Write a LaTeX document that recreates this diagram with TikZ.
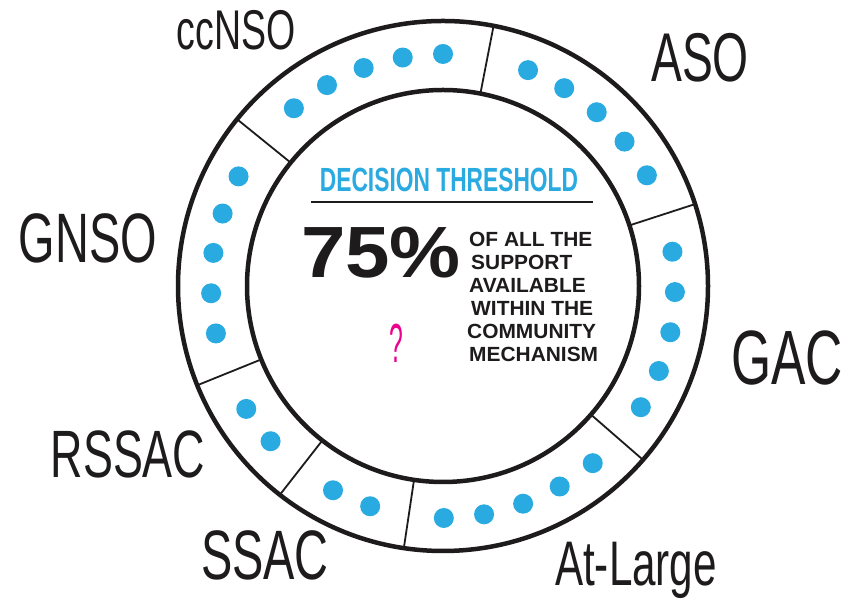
\documentclass[tikz,border=0pt]{standalone}
\usepackage{fontspec}
\setmainfont{Liberation Sans}
\newfontfamily\handfont[FakeStretch=0.67]{Liberation Sans}
\newfontfamily\headfont[FakeStretch=0.68]{Liberation Sans}
\newfontfamily\bigfont[FakeStretch=1.1]{Liberation Sans}
\newfontfamily\colfont[FakeStretch=1.02]{Liberation Sans}
\newfontfamily\qfont[FakeStretch=0.45]{Liberation Sans}
\usetikzlibrary{calc}
\definecolor{dotblue}{HTML}{29ABE2}
\definecolor{ink}{HTML}{1E1B1C}
\definecolor{qmark}{HTML}{EC008C}
\begin{document}
\begin{tikzpicture}[x=1pt,y=1pt,
  ring/.style={draw=ink, line width=4.5pt},
  divider/.style={draw=ink, line width=1.8pt},
  vote/.style={circle, fill=dotblue, draw=none, inner sep=0pt, minimum size=20pt},
  lab/.style={inner sep=0pt, anchor=base, text=ink},
  col/.style={inner sep=0pt, anchor=base west, text=ink, font={\colfont\bfseries\fontsize{20.5pt}{20.5pt}\selectfont}}]
\useasboundingbox (0,0) rectangle (854,601);
\fill[white] (0,0) rectangle (854,601);
\coordinate (c) at (443,315);
% dividers
\foreach \a [count=\k] in {18,79,141,202,232,261.5,319} {
  \coordinate (in\k) at ($(c)+(\a:196pt)$);
  \coordinate (out\k) at ($(c)+(\a:265pt)$);
  \draw[divider] (in\k) -- (out\k);
}
% rings
\draw[ring] (c) circle[radius=265pt];
\draw[ring] (c) circle[radius=196pt];
% dots
\foreach \nm/\mid/\n in {ccnso/110/5, aso/48.5/5, gac/-11.5/5, atl/-69.8/5, ssac/-113.3/2, rssac/-143/2, gnso/171.8/5} {
  \foreach \i in {1,...,\n} {
    \pgfmathsetmacro\ang{\mid+10*(\i-(\n+1)/2)}
    \node[vote] (\nm\i) at ($(c)+(\ang:232pt)$) {};
  }
}
% labels
\node[lab, font={\handfont\fontsize{56pt}{56pt}\selectfont}] (lccnso) at (236,551) {ccNSO};
\node[lab, font={\handfont\fontsize{69pt}{69pt}\selectfont}] (laso) at (700,519) {ASO};
\node[lab, font={\handfont\fontsize{70pt}{70pt}\selectfont}] (lgnso) at (88,338) {GNSO};
\node[lab, font={\handfont\fontsize{77pt}{77pt}\selectfont}] (lgac) at (787,216) {GAC};
\node[lab, font={\handfont\fontsize{67pt}{67pt}\selectfont}] (lrssac) at (128,123) {RSSAC};
\node[lab, font={\handfont\fontsize{70pt}{70pt}\selectfont}] (lssac) at (265,21) {SSAC};
\node[lab, font={\handfont\fontsize{63pt}{63pt}\selectfont}] (latl) at (636,15) {At-Large};
% centre
\node[lab, text=dotblue, font={\headfont\bfseries\fontsize{33.5pt}{33.5pt}\selectfont}] (head) at (449,409) {DECISION THRESHOLD};
\coordinate (ulA) at (311,399);
\coordinate (ulB) at (593,399);
\draw[ink, line width=2pt] (ulA) -- (ulB);
\node[lab, font={\bigfont\bfseries\fontsize{72.6pt}{72.6pt}\selectfont}] (pct) at (381,323) {75\%};
\node[col] (t1) at (469,354) {OF ALL THE};
\node[col] (t2) at (471,331) {SUPPORT};
\node[col] (t3) at (469,308) {AVAILABLE};
\node[col] (t4) at (471,285) {WITHIN THE};
\node[col] (t5) at (467,262) {COMMUNITY};
\node[col] (t6) at (469,239) {MECHANISM};
\node[lab, text=qmark, font={\qfont\fontsize{55pt}{55pt}\selectfont}] (q) at (396,238) {?};
\end{tikzpicture}
\end{document}
